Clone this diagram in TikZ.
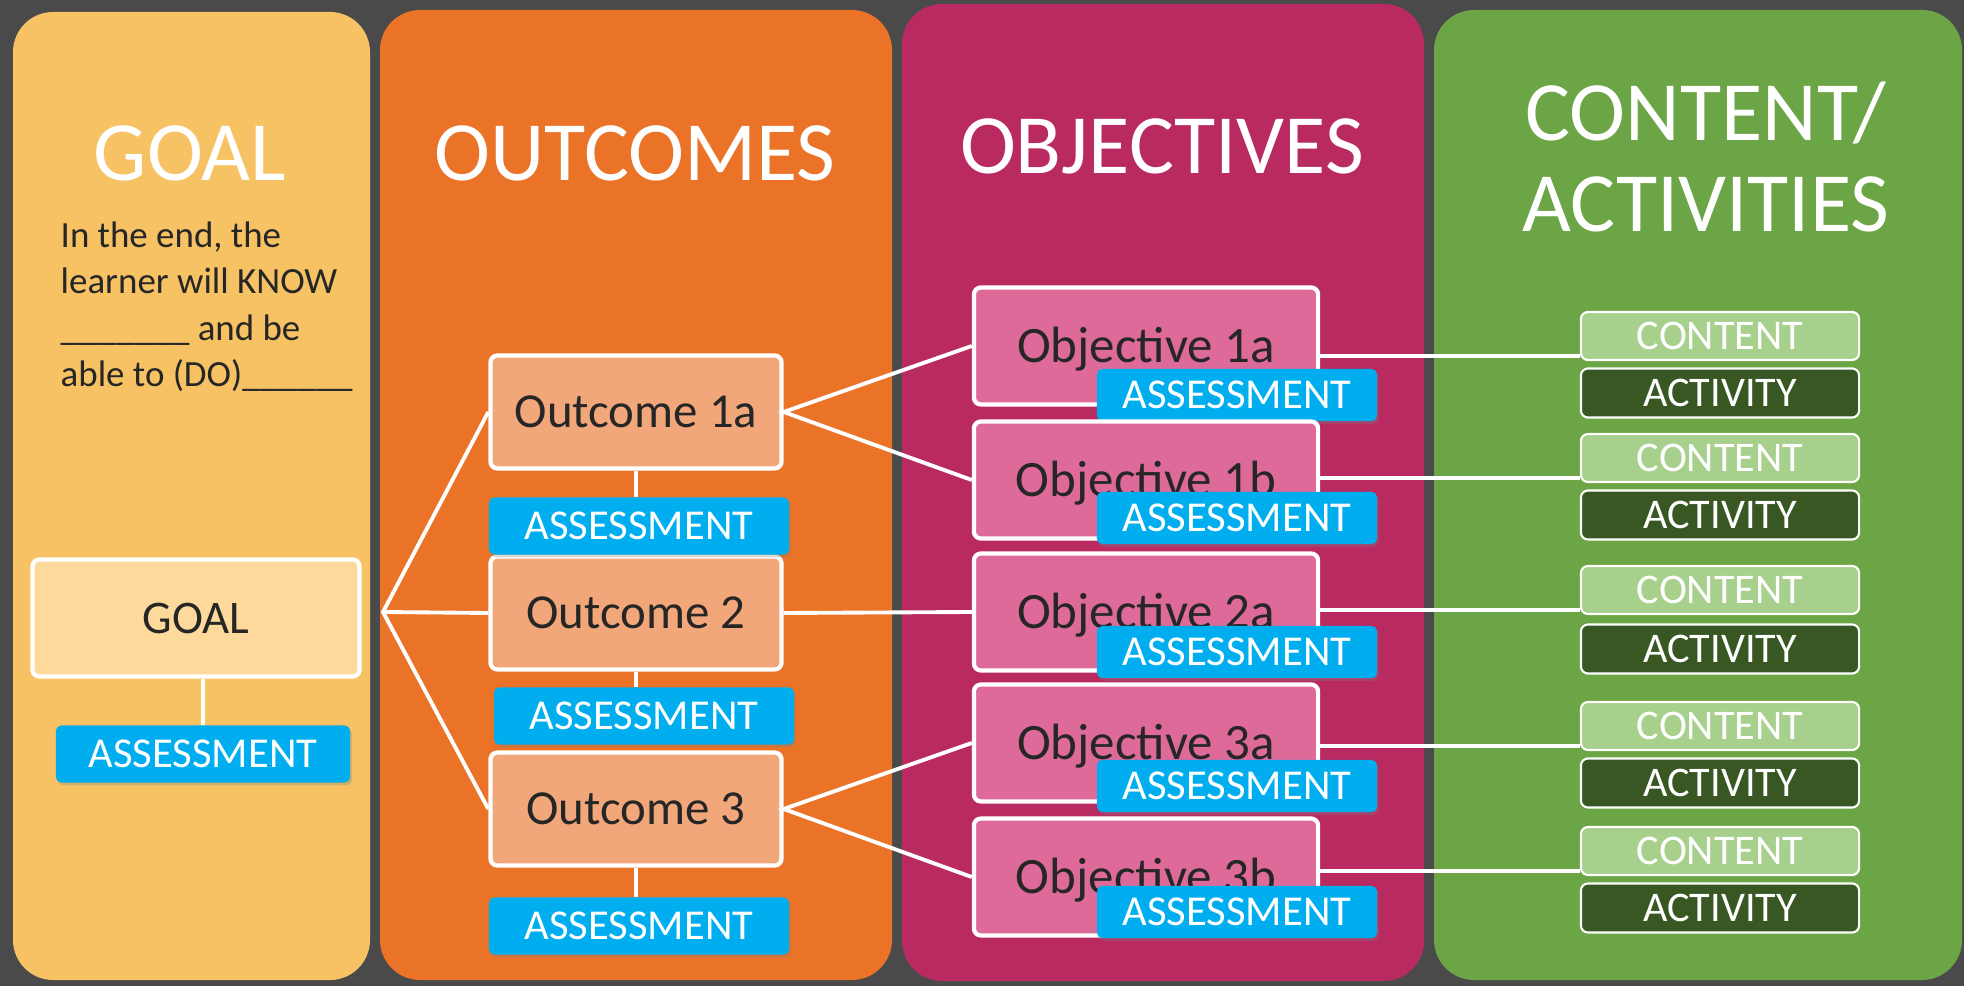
\documentclass[tikz,border=0pt]{standalone}
\usepackage{fontspec}
\setmainfont{Carlito}
\usetikzlibrary{shadows}
\definecolor{bgphoto}{HTML}{4A4A4A}
\definecolor{goalpanel}{HTML}{F6C263}
\definecolor{outpanel}{HTML}{EB7328}
\definecolor{objpanel}{HTML}{B92A61}
\definecolor{cntpanel}{HTML}{6BA545}
\definecolor{goalfill}{HTML}{FDDA9B}
\definecolor{outfill}{HTML}{F2A77A}
\definecolor{objfill}{HTML}{DE6A9A}
\definecolor{assfill}{HTML}{00AEEF}
\definecolor{cntfill}{HTML}{A8D08D}
\definecolor{actfill}{HTML}{385723}
\definecolor{inkdark}{HTML}{262626}
\tikzset{
  blocknode/.style = {align=center, inner sep=0pt, text centered,
    text depth=0pt},
  panel/.style = {rounded corners=0.4cm},% colonne de fond
  title/.style = {white, inner sep=0pt, align=center,
    font=\fontsize{24}{25.9}\selectfont},
  goaltext/.style = {inkdark, inner sep=0pt, align=left,
    font=\fontsize{10.5}{13.2}\selectfont},
  box_goal/.style = {blocknode, draw=white, line width=1.2pt, fill=goalfill,
    text=inkdark, rounded corners=2pt, font=\fontsize{13.3}{15}\selectfont,
    text height=8.6pt, minimum width=3.27cm, minimum height=1.17cm},% bloc but
  box_out/.style = {blocknode, draw=white, line width=1.2pt, fill=outfill,
    text=inkdark, rounded corners=2pt, font=\fontsize{13.9}{15}\selectfont,
    text height=9pt, minimum width=2.91cm, minimum height=1.13cm},% bloc resultat
  box_obj/.style = {blocknode, draw=white, line width=1.2pt, fill=objfill,
    text=inkdark, rounded corners=2pt, font=\fontsize{14.5}{16}\selectfont,
    text height=9.3pt, minimum width=3.44cm, minimum height=1.17cm},% bloc objectif
  box_ass/.style = {blocknode, fill=assfill, text=white, rounded corners=1.5pt,
    font=\fontsize{12.1}{14}\selectfont, text height=7.8pt,
    minimum width=2.8cm, minimum height=0.52cm,
    drop shadow={shadow xshift=0.5pt, shadow yshift=-0.8pt, opacity=0.3}},% evaluation
  box_cnt/.style = {blocknode, draw=white, line width=0.6pt, fill=cntfill,
    text=white, rounded corners=2pt, font=\fontsize{12}{14}\selectfont,
    text height=7.7pt, minimum width=2.78cm, minimum height=0.48cm},% contenu
  box_act/.style = {box_cnt, fill=actfill, minimum height=0.49cm},% activite
  link/.style = {draw=white, line width=1.1pt}
}
\begin{document}
\begin{tikzpicture}[x=0.01cm, y=-0.01cm]
\useasboundingbox (0,0) rectangle (1964,986);
\fill [bgphoto] (0,0) rectangle (1964,986);
% columns
\fill [panel, goalpanel] (13,12) rectangle (370,980);
\fill [panel, outpanel] (380,10) rectangle (892,980);
\fill [panel, objpanel] (902,4) rectangle (1424,981);
\fill [panel, cntpanel] (1434,10) rectangle (1962,980);

% headings
\node [title, anchor=base] (t_goal) at (190,181) {GOAL};
\node [title, anchor=base] (t_out) at (635,181) {OUTCOMES};
\node [title, anchor=base] (t_obj) at (1162,174) {OBJECTIVES};
\node [title] (t_cnt) at (1706,157) {CONTENT/\\ACTIVITIES};
\node [goaltext, anchor=north west] (goal_txt) at (60,221)
  {In the end, the\\learner will KNOW\\\_\_\_\_\_\_\_ and be\\able to (DO)\_\_\_\_\_\_};

% goal
\node [box_goal] (goal) at (196,618) {GOAL};
\node [box_ass, minimum width=2.94cm, minimum height=0.57cm] (goal_a) at (203,754) {ASSESSMENT};

% outcomes
\node [box_out] (out1a) at (636,412) {Outcome 1a};
\node [box_out] (out2) at (636,613) {Outcome 2};
\node [box_out] (out3) at (636,809) {Outcome 3};
\node [box_ass, minimum width=3cm, minimum height=0.57cm] (out1a_a) at (639,526) {ASSESSMENT};
\node [box_ass, minimum width=3cm, minimum height=0.57cm] (out2_a) at (644,716) {ASSESSMENT};
\node [box_ass, minimum width=3cm, minimum height=0.57cm] (out3_a) at (639,926) {ASSESSMENT};

% objectives
\node [box_obj] (obj1a) at (1146,346) {Objective 1a};
\node [box_ass] (obj1a_a) at (1237,395) {ASSESSMENT};
\node [box_obj] (obj1b) at (1146,480) {Objective 1b};
\node [box_ass] (obj1b_a) at (1237,518) {ASSESSMENT};
\node [box_obj] (obj2a) at (1146,612) {Objective 2a};
\node [box_ass] (obj2a_a) at (1237,652) {ASSESSMENT};
\node [box_obj] (obj3a) at (1146,743) {Objective 3a};
\node [box_ass] (obj3a_a) at (1237,786) {ASSESSMENT};
\node [box_obj] (obj3b) at (1146,877) {Objective 3b};
\node [box_ass] (obj3b_a) at (1237,912) {ASSESSMENT};

% content / activities
\node [box_cnt] (cnt1) at (1720,336) {CONTENT};
\node [box_act] (act1) at (1720,393) {ACTIVITY};
\node [box_cnt] (cnt2) at (1720,458) {CONTENT};
\node [box_act] (act2) at (1720,515) {ACTIVITY};
\node [box_cnt] (cnt3) at (1720,590) {CONTENT};
\node [box_act] (act3) at (1720,649) {ACTIVITY};
\node [box_cnt] (cnt4) at (1720,726) {CONTENT};
\node [box_act] (act4) at (1720,783) {ACTIVITY};
\node [box_cnt] (cnt5) at (1720,851) {CONTENT};
\node [box_act] (act5) at (1720,908) {ACTIVITY};

% links
\coordinate (fork) at (383,612);
\draw [link] (goal.south -| goal_a.north) -- (goal_a.north);
\draw [link] (out1a.west) -- (fork) -- (out3.west);
\draw [link] (fork) -- (out2.west);
\draw [link] (out1a.south) -- (out1a.south |- out1a_a.north);
\draw [link] (out2.south) -- (out2.south |- out2_a.north);
\draw [link] (out3.south) -- (out3.south |- out3_a.north);
\draw [link] (obj1a.west) -- (out1a.east) -- (obj1b.west);
\draw [link] (out2.east) -- (obj2a.west);
\draw [link] (obj3a.west) -- (out3.east) -- (obj3b.west);
\draw [link] (obj1a.east |- cnt1.188) -- (cnt1.188);
\draw [link] (obj1b.east |- cnt2.188) -- (cnt2.188);
\draw [link] (obj2a.east |- cnt3.188) -- (cnt3.188);
\draw [link] (obj3a.east |- cnt4.188) -- (cnt4.188);
\draw [link] (obj3b.east |- cnt5.188) -- (cnt5.188);
\end{tikzpicture}
\end{document}
